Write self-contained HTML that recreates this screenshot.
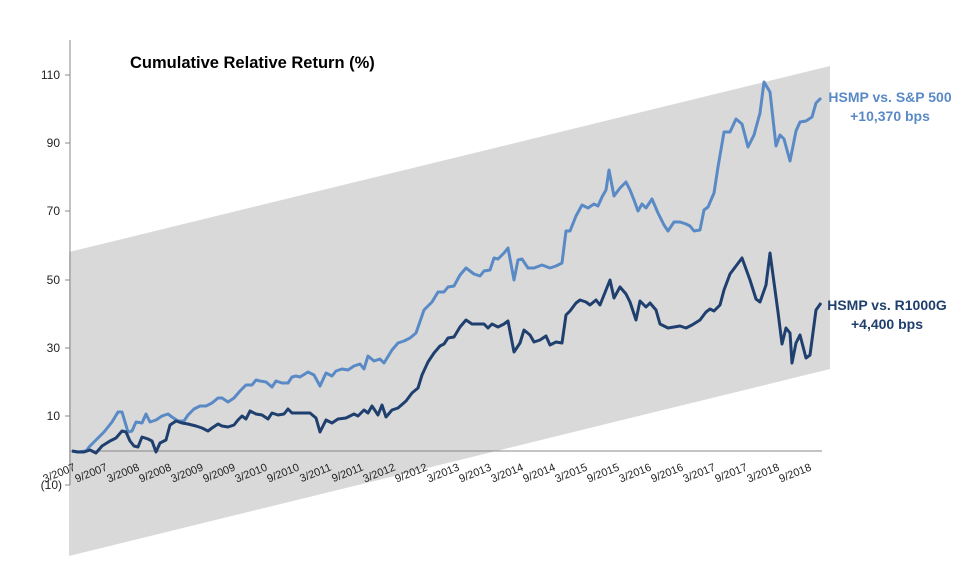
<!DOCTYPE html>
<html><head><meta charset="utf-8"><style>
body{margin:0;background:#fff;width:960px;height:568px;overflow:hidden}
svg{font-family:"Liberation Sans",sans-serif}
</style></head><body>
<svg width="960" height="568" viewBox="0 0 960 568">
<polygon points="69,252 830,66 830,369 69,556" fill="#d9d9d9"/>
<line x1="70" y1="40" x2="70" y2="485" stroke="#888" stroke-width="1"/>
<line x1="70" y1="451" x2="822" y2="451" stroke="#888" stroke-width="1"/>
<g stroke="#888"><line x1="65" y1="75" x2="70" y2="75"/><line x1="65" y1="143" x2="70" y2="143"/><line x1="65" y1="211" x2="70" y2="211"/><line x1="65" y1="280" x2="70" y2="280"/><line x1="65" y1="348" x2="70" y2="348"/><line x1="65" y1="416" x2="70" y2="416"/><line x1="65" y1="485" x2="70" y2="485"/></g>
<g font-size="12" fill="#222" text-anchor="end">
<text x="60" y="79">110</text><text x="60" y="147">90</text><text x="60" y="215">70</text><text x="60" y="284">50</text><text x="60" y="352">30</text><text x="60" y="420">10</text><text x="62" y="489">(10)</text>
</g>
<text x="130" y="68" font-size="16.5" font-weight="bold" fill="#000">Cumulative Relative Return (%)</text>
<polyline fill="none" stroke="#5a8ac6" stroke-width="3" stroke-linejoin="round" points="72,451 78,452 86,451 90,446 96,440 104,432 112,422 118,412 122,412 128,432 132,431 136,422 142,423 146,414 150,422 156,420 162,416 168,414 172,417 178,421 184,421 188,415 194,409 200,406 206,406 212,403 218,398 222,398 228,402 234,398 240,391 246,385 252,385 256,380 260,381 266,382 272,387 276,381 282,383 288,383 292,377 296,376 300,377 308,372 314,375 320,386 326,373 332,376 336,371 342,369 348,370 354,366 360,364 364,369 368,356 374,361 380,359 384,363 392,350 398,343 404,341 410,338 416,333 424,310 432,302 438,292 444,292 448,287 454,286 460,275 466,268 474,274 480,276 484,271 490,270 494,258 498,259 504,253 508,248 514,280 518,260 522,259 528,268 534,268 542,265 550,268 556,266 562,263 566,231 570,231 576,216 582,205 588,208 594,204 598,206 602,197 606,190 609,170 614,196 620,188 626,182 630,190 634,200 638,211 642,204 646,208 652,199 658,213 664,225 668,231 674,222 680,222 686,224 690,226 694,231 700,230 704,210 708,207 714,193 718,167 724,132 730,132 736,119 742,124 748,147 754,135 760,113 764,82 770,92 776,146 780,135 784,139 790,161 796,131 800,122 806,121 812,117 816,103 821,98"/>
<polyline fill="none" stroke="#1f3f6e" stroke-width="3" stroke-linejoin="round" points="72,451 78,452 84,452 90,450 96,453 102,446 110,441 116,438 122,431 126,432 130,441 134,446 138,447 142,437 148,439 152,441 156,452 160,443 166,440 170,425 176,421 182,423 188,424 196,426 202,428 208,431 212,428 218,424 222,426 228,427 234,425 238,420 242,416 246,419 250,411 256,414 262,415 268,419 272,413 278,415 284,414 288,409 292,413 300,413 310,413 316,418 320,432 326,420 332,423 338,419 346,418 354,414 358,416 364,410 368,413 372,406 378,415 382,405 386,417 392,410 398,408 406,401 412,393 418,388 422,375 428,362 434,353 440,346 444,344 448,338 454,337 460,327 466,320 472,324 478,324 484,324 488,328 492,324 498,327 504,324 508,321 514,352 520,343 524,330 530,335 534,342 540,340 546,336 550,345 556,342 562,343 566,315 570,311 576,303 580,300 586,302 590,305 596,300 600,305 606,290 610,280 614,298 620,287 626,294 630,302 636,320 640,301 646,307 650,303 656,310 660,324 668,328 674,327 680,326 686,328 692,325 700,320 706,312 710,309 714,311 720,305 724,290 730,274 736,266 742,258 750,280 756,299 760,302 766,285 770,253 778,312 782,344 786,328 790,333 792,363 796,343 800,335 806,358 810,355 816,310 821,303"/>
<g font-size="14" font-weight="bold" text-anchor="middle">
<text x="890" y="102" fill="#5a8ac6">HSMP vs. S&amp;P 500</text>
<text x="890" y="121" fill="#5a8ac6">+10,370 bps</text>
<text x="887" y="310" fill="#1f3f6e">HSMP vs. R1000G</text>
<text x="887" y="329" fill="#1f3f6e">+4,400 bps</text>
</g>
<g font-size="11" fill="#222" text-anchor="end">
<text transform="translate(76,470) rotate(-22)">3/2007</text>
<text transform="translate(108,470) rotate(-22)">9/2007</text>
<text transform="translate(140,470) rotate(-22)">3/2008</text>
<text transform="translate(172,470) rotate(-22)">9/2008</text>
<text transform="translate(204,470) rotate(-22)">3/2009</text>
<text transform="translate(236,470) rotate(-22)">9/2009</text>
<text transform="translate(268,470) rotate(-22)">3/2010</text>
<text transform="translate(300,470) rotate(-22)">9/2010</text>
<text transform="translate(332,470) rotate(-22)">3/2011</text>
<text transform="translate(364,470) rotate(-22)">9/2011</text>
<text transform="translate(396,470) rotate(-22)">3/2012</text>
<text transform="translate(428,470) rotate(-22)">9/2012</text>
<text transform="translate(460,470) rotate(-22)">3/2013</text>
<text transform="translate(492,470) rotate(-22)">9/2013</text>
<text transform="translate(524,470) rotate(-22)">3/2014</text>
<text transform="translate(556,470) rotate(-22)">9/2014</text>
<text transform="translate(588,470) rotate(-22)">3/2015</text>
<text transform="translate(620,470) rotate(-22)">9/2015</text>
<text transform="translate(652,470) rotate(-22)">3/2016</text>
<text transform="translate(684,470) rotate(-22)">9/2016</text>
<text transform="translate(716,470) rotate(-22)">3/2017</text>
<text transform="translate(748,470) rotate(-22)">9/2017</text>
<text transform="translate(780,470) rotate(-22)">3/2018</text>
<text transform="translate(812,470) rotate(-22)">9/2018</text>
</g>
</svg>
</body></html>
